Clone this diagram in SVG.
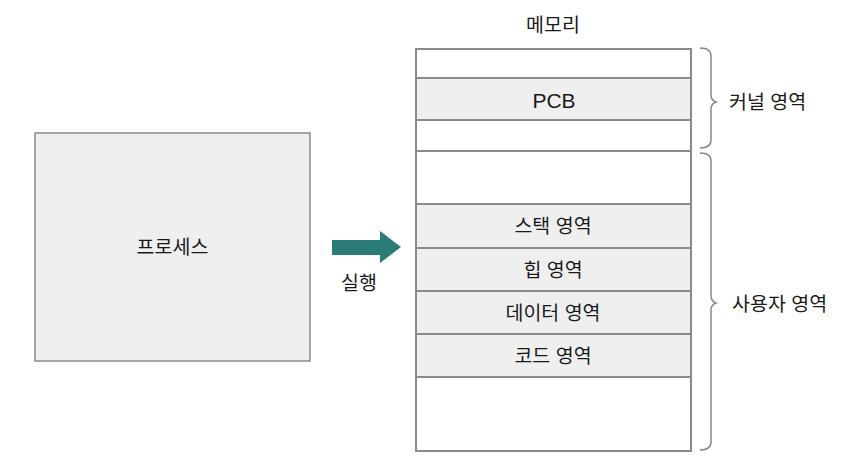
<svg xmlns="http://www.w3.org/2000/svg" width="868" height="472" viewBox="0 0 868 472">
<style>
text{font-family:"Liberation Sans","Noto Sans CJK KR",sans-serif;font-size:19.5px;fill:#1a1a1a;text-anchor:middle;dominant-baseline:central}
.g{fill:#efefef;stroke:#8a8a8a;stroke-width:2}
.w{fill:#fff;stroke:#8a8a8a;stroke-width:2}
.brace{fill:none;stroke:#888;stroke-width:1.5}
.lbl{text-anchor:start}
</style>
<rect width="868" height="472" fill="#fff"/>
<g id="process">
<rect x="35" y="133" width="275" height="228" fill="#efefef" stroke="#8a8a8a" stroke-width="1.5"/>
<text x="172.5" y="247">프로세스</text>
</g>
<g id="memory">
<text x="553" y="25">메모리</text>
<rect class="w" x="416" y="49" width="275" height="29"/>
<rect class="g" x="416" y="78" width="275" height="42"/>
<text x="554" y="100" style="font-size:21px">PCB</text>
<rect class="w" x="416" y="120" width="275" height="31"/>
<rect class="w" x="416" y="151" width="275" height="53"/>
<rect class="g" x="416" y="204" width="275" height="44"/>
<text x="553" y="226">스택 영역</text>
<rect class="g" x="416" y="248" width="275" height="43"/>
<text x="553" y="269.5">힙 영역</text>
<rect class="g" x="416" y="291" width="275" height="43"/>
<text x="553" y="312.5">데이터 영역</text>
<rect class="g" x="416" y="334" width="275" height="43"/>
<text x="553" y="355.5">코드 영역</text>
<rect class="w" x="416" y="377" width="275" height="74"/>
</g>
<g id="kernel-brace">
<path class="brace" d="M700 48 Q711 48 711 56 L711 95 Q711 100 716 102 Q711 104 711 109 L711 140 Q711 148 700 148"/>
<text class="lbl" x="729" y="102">커널 영역</text>
</g>
<g id="user-brace">
<path class="brace" d="M700 153 Q711 153 711 161 L711 296 Q711 301 716 303 Q711 305 711 310 L711 442 Q711 450 700 450"/>
<text class="lbl" x="732" y="304">사용자 영역</text>
</g>
<g id="connectors">
<polygon points="332,240 380,240 380,231 401,247 380,263 380,255 332,255" fill="#2a7d76"/>
<text x="359" y="283">실행</text>
</g>
</svg>
